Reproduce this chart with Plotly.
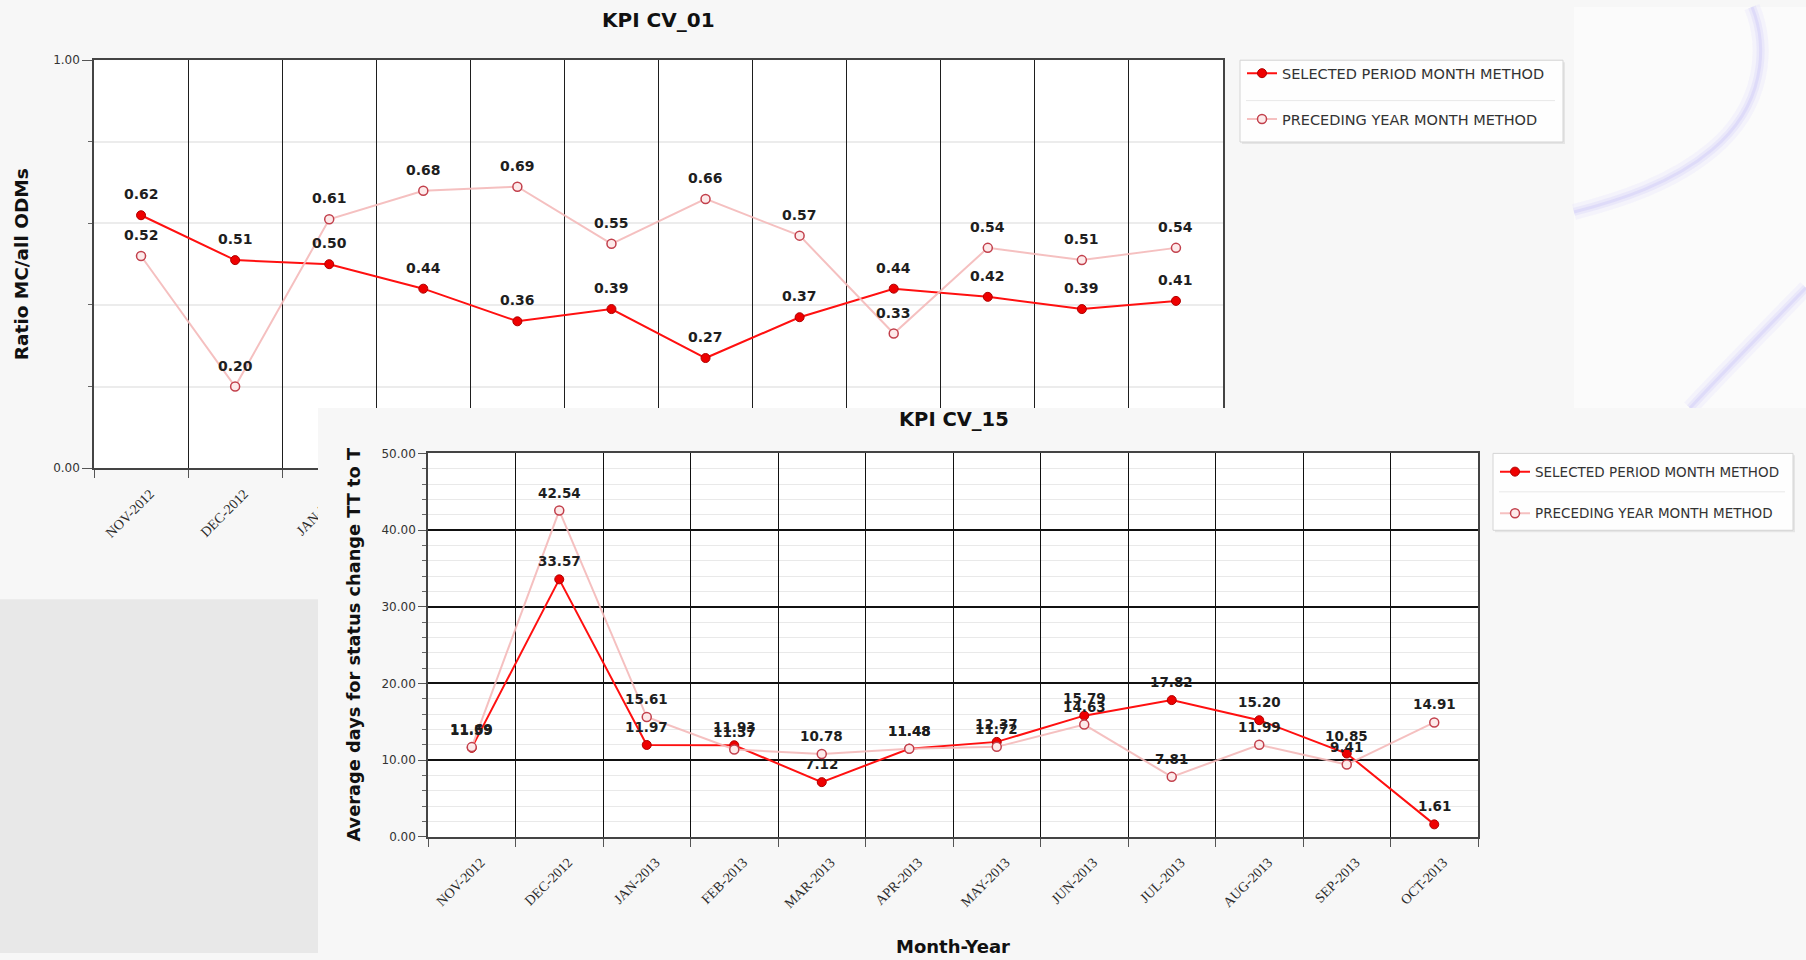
import plotly.graph_objects as go

W, H = 1806, 960


def px(x):
    return x / W


def py(y):
    return 1 - y / H


months = ["NOV-2012", "DEC-2012", "JAN-2013", "FEB-2013", "MAR-2013", "APR-2013",
          "MAY-2013", "JUN-2013", "JUL-2013", "AUG-2013", "SEP-2013", "OCT-2013"]

# KPI CV_01 – ratio MC / all ODMs
cv01_selected = [0.62, 0.51, 0.50, 0.44, 0.36, 0.39, 0.27, 0.37, 0.44, 0.42, 0.39, 0.41]
cv01_preceding = [0.52, 0.20, 0.61, 0.68, 0.69, 0.55, 0.66, 0.57, 0.33, 0.54, 0.51, 0.54]

# KPI CV_15 – average days for status change TT to T
cv15_selected = [11.59, 33.57, 11.97, 11.93, 7.12, 11.48, 12.37, 15.79, 17.82, 15.20, 10.85, 1.61]
cv15_preceding = [11.69, 42.54, 15.61, 11.37, 10.78, 11.48, 11.72, 14.63, 7.81, 11.99, 9.41, 14.91]

series_names = ["SELECTED PERIOD MONTH METHOD", "PRECEDING YEAR MONTH METHOD"]

SANS = "DejaVu Sans"
SERIF = "Liberation Serif"

sel_line = dict(color="#ff1010", width=2)
sel_marker = dict(symbol="circle", size=9, color="#ee0000", line=dict(color="#b00000", width=1))
pre_line = dict(color="rgba(244,185,185,0.9)", width=2)
pre_marker = dict(symbol="circle", size=9, color="#fdeaea", line=dict(color="#c2404c", width=1.5))

fig = go.Figure()

# ---- upper chart (KPI CV_01) ----
fig.add_trace(go.Scatter(x=months, y=cv01_selected, name=series_names[0], mode="lines+markers",
                         line=sel_line, marker=sel_marker, xaxis="x", yaxis="y",
                         legend="legend", legendgroup="a"))
fig.add_trace(go.Scatter(x=months, y=cv01_preceding, name=series_names[1], mode="lines+markers",
                         line=pre_line, marker=pre_marker, xaxis="x", yaxis="y",
                         legend="legend", legendgroup="b"))

# ---- panel of the lower chart, drawn over the upper one ----
P_L, P_T = 318, 407          # panel top-left corner (px)
B_L, B_R, B_T, B_B = 428, 1478, 453, 842   # lower plot area (px)


def pu(x):
    return (x - P_L) / (W - P_L)


def pv(y):
    return (H - y) / (H - P_T)


fig.add_trace(go.Scatter(x=[0, 1, 1, 0, 0], y=[0, 0, 1, 1, 0], mode="none", fill="toself",
                         fillcolor="#f7f7f7", xaxis="x2", yaxis="y2", showlegend=False,
                         hoverinfo="skip"))
fig.add_trace(go.Scatter(x=[pu(B_L), pu(B_R), pu(B_R), pu(B_L), pu(B_L)],
                         y=[pv(B_B), pv(B_B), pv(B_T), pv(B_T), pv(B_B)], mode="none",
                         fill="toself", fillcolor="#ffffff", xaxis="x2", yaxis="y2",
                         showlegend=False, hoverinfo="skip"))

# ---- lower chart (KPI CV_15) ----
fig.add_trace(go.Scatter(x=months, y=cv15_selected, name=series_names[0], mode="lines+markers",
                         line=sel_line, marker=sel_marker, xaxis="x3", yaxis="y3",
                         legend="legend2", legendgroup="c"))
fig.add_trace(go.Scatter(x=months, y=cv15_preceding, name=series_names[1], mode="lines+markers",
                         line=pre_line, marker=pre_marker, xaxis="x3", yaxis="y3",
                         legend="legend2", legendgroup="d"))

annotations = []
for vals in (cv01_selected, cv01_preceding):
    for m, v in zip(months, vals):
        annotations.append(dict(x=m, y=v, xref="x", yref="y", text=f"<b>{v:.2f}</b>",
                                showarrow=False, yshift=21,
                                font=dict(family=SANS, size=14, color="#1e1e1e")))
for vals in (cv15_selected, cv15_preceding):
    for m, v in zip(months, vals):
        annotations.append(dict(x=m, y=v, xref="x3", yref="y3", text=f"<b>{v:.2f}</b>",
                                showarrow=False, yshift=18,
                                font=dict(family=SANS, size=13.5, color="#1e1e1e")))

titles = [
    ("<b>KPI CV_01</b>", 658, 13, 20, 0),
    ("<b>KPI CV_15</b>", 954, 419, 19.5, 0),
    ("<b>Ratio MC/all ODMs</b>", 21, 261, 18.5, -90),
    ("<b>Average days for status change TT to T</b>", 354, 647, 17.8, -90),
    ("<b>Month-Year</b>", 953, 953, 18, 0),
]
for txt, x, y, size, ang in titles:
    annotations.append(dict(x=px(x), y=py(y), xref="paper", yref="paper", text=txt,
                            showarrow=False, textangle=ang, xanchor="center", yanchor="middle",
                            font=dict(family=SANS, size=size, color="#111111")))


def path(points):
    (x0, y0), rest = points[0], points[1:]
    d = f"M {px(x0):.5f},{py(y0):.5f}"
    for i in range(0, len(rest), 3):
        seg = rest[i:i + 3]
        d += " C " + " ".join(f"{px(a):.5f},{py(b):.5f}" for a, b in seg)
    return d


swirl1 = [(1752, 0), (1768, 40), (1765, 100), (1712, 145), (1672, 179), (1620, 196), (1574, 208)]
swirl2 = [(1690, 407), (1722, 372), (1760, 333), (1806, 285)]

shapes = [
    dict(type="rect", xref="paper", yref="paper", x0=0, x1=px(P_L), y0=0, y1=py(601),
         fillcolor="#e8e8e8", line=dict(width=0), layer="below"),
    dict(type="rect", xref="paper", yref="paper", x0=px(1574), x1=1, y0=py(P_T), y1=1,
         fillcolor="#fbfbfb", line=dict(width=0), layer="below"),
]
# soft swirl strokes: wide faint halo under a thin core
for pts in (swirl1, swirl2):
    for color, width in (("rgba(228,225,252,0.30)", 16), ("rgba(215,211,250,0.35)", 8),
                         ("rgba(200,194,245,0.35)", 3)):
        shapes.append(dict(type="path", xref="paper", yref="paper", path=path(pts),
                           layer="below", line=dict(color=color, width=width)))

# legend frames
for (l, r, t, b, sep) in ((1240, 1563, 54, 137, 95), (1493, 1793, 453, 531, 492)):
    shapes.append(dict(type="rect", xref="paper", yref="paper", x0=px(l + 2), x1=px(r + 2),
                       y0=py(b + 2), y1=py(t + 2), fillcolor="rgba(0,0,0,0.07)",
                       line=dict(width=0), layer="above"))
    shapes.append(dict(type="rect", xref="paper", yref="paper", x0=px(l), x1=px(r),
                       y0=py(b), y1=py(t), fillcolor="#fefefe",
                       line=dict(color="#d4d4d4", width=1), layer="above"))
    shapes.append(dict(type="line", xref="paper", yref="paper", x0=px(l + 6), x1=px(r - 8),
                       y0=py(sep), y1=py(sep), line=dict(color="#e8e8e8", width=1),
                       layer="above"))

xcat = dict(type="category", tickson="boundaries", showgrid=True, ticks="outside", ticklen=8,
            tickcolor="#555555", showline=True, mirror=True, linecolor="#444444", linewidth=2,
            tickangle=-45, tickfont=dict(family=SERIF, size=14, color="#2a2a2a"),
            ticklabelstandoff=10, ticklabelshift=9,
            range=[-0.5, 11.5], zeroline=False, fixedrange=True)

fig.update_layout(
    width=W, height=H, autosize=False, margin=dict(l=0, r=0, t=0, b=0),
    paper_bgcolor="#f7f7f7", plot_bgcolor="#ffffff",
    showlegend=True,
    xaxis=dict(xcat, domain=[px(94), px(1223)], anchor="y", gridcolor="#1e1e1e", gridwidth=1.3),
    yaxis=dict(domain=[py(468), py(54)], anchor="x", range=[0, 1], tick0=0, dtick=1,
               tickformat=".2f", ticks="outside", ticklen=10, tickcolor="#555555",
               showline=True, mirror=True, linecolor="#444444", linewidth=1.5,
               showgrid=True, gridcolor="#333333", gridwidth=1.5, zeroline=False,
               tickfont=dict(family=SANS, size=12, color="#333333"), fixedrange=True,
               minor=dict(dtick=0.2, tick0=0, ticks="outside", ticklen=4, tickcolor="#666666",
                          showgrid=True, gridcolor="#ececec", gridwidth=1.5)),
    xaxis2=dict(domain=[px(P_L), 1], anchor="y2", range=[0, 1], visible=False, fixedrange=True),
    yaxis2=dict(domain=[0, py(P_T)], anchor="x2", range=[0, 1], visible=False, fixedrange=True),
    xaxis3=dict(xcat, domain=[px(B_L), px(B_R)], anchor="y3", gridcolor="#111111", gridwidth=1.3),
    yaxis3=dict(domain=[py(B_B), py(B_T)], anchor="x3", range=[0, 50], tick0=0, dtick=10,
                tickformat=".2f", ticks="outside", ticklen=8, tickcolor="#555555",
                showline=True, mirror=True, linecolor="#444444", linewidth=1.5,
                showgrid=True, gridcolor="#111111", gridwidth=1.5, zeroline=False,
                tickfont=dict(family=SANS, size=12, color="#333333"), fixedrange=True,
                minor=dict(dtick=2, tick0=0, ticks="outside", ticklen=4, tickcolor="#666666",
                           showgrid=True, gridcolor="#e9e9e9", gridwidth=1)),
    legend=dict(x=px(1242), y=py(51), xanchor="left", yanchor="top", bgcolor="rgba(0,0,0,0)",
                borderwidth=0, tracegroupgap=24,
                font=dict(family=SANS, size=14.5, color="#333333")),
    legend2=dict(x=px(1495), y=py(456), xanchor="left", yanchor="top", bgcolor="rgba(0,0,0,0)",
                 borderwidth=0, tracegroupgap=21,
                 font=dict(family=SANS, size=13.5, color="#333333")),
    annotations=annotations,
    shapes=shapes,
    hovermode=False,
)

fig.write_html("out.html", config={"displayModeBar": False})
